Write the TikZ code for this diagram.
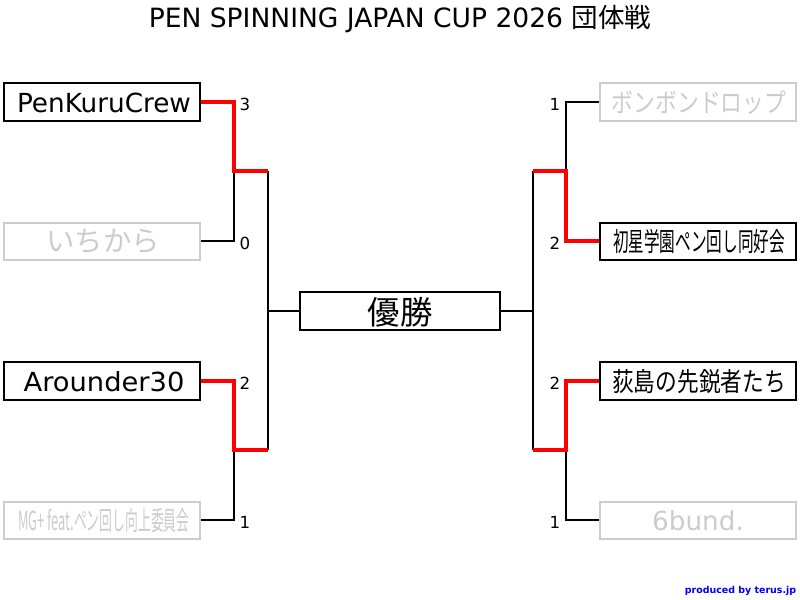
\documentclass[tikz,border=0pt]{standalone}
\usepackage{fontspec}
\setmainfont{DejaVu Sans}
\newfontfamily\jpfont{Noto Sans CJK JP}
\usepackage{xcolor}
\usetikzlibrary{positioning,calc}

\definecolor{loser}{HTML}{CCCCCC}

\tikzset{
    team/.style={draw, line width=1.5pt, fill=white, minimum width=147pt, minimum height=28pt, inner sep=0pt, text height=16pt, text depth=0pt, font=\fontsize{19.7}{20}\selectfont},
    lost/.style={team, draw=loser, text=loser},
    path black/.style={line width=1.5pt, black},
    path red/.style={line width=3pt, red},
    score/.style={font=\fontsize{12.5}{13}\selectfont}
}

\begin{document}
\begin{tikzpicture}[x=0.75pt, y=-0.75pt]
    \useasboundingbox (0, 0) rectangle (800, 600);

    \node[font=\fontsize{19.9}{20}\selectfont] (title) at (400, 19) {PEN SPINNING JAPAN CUP 2026 {\jpfont 団体戦}};

    % Left side
    \node[team] (penkuru) at (102, 102) {\hspace{3pt}PenKuruCrew};
    \node[lost] (ichikara) at (102, 241.2) {\hspace{1.5pt}{\fontsize{21.3}{22}\jpfont いちから}};
    \node[team] (arounder) at (102, 381) {\hspace{3pt}\scalebox{1.04}[1]{Arounder30}};
    \node[lost] (mgplus) at (102, 520.2) {\hspace{3pt}\scalebox{0.489}[1]{\jpfont MG+ feat.ペン回し向上委員会}};

    % Right side
    \node[lost] (bonbon) at (698, 102) {\hspace{1.5pt}\scalebox{0.83}[1]{\jpfont ボンボンドロップ}};
    \node[team] (hatsuboshi) at (698, 241.2) {\hspace{1.5pt}\scalebox{0.595}[1]{\jpfont 初星学園ペン回し同好会}};
    \node[team] (ogishima) at (698, 381) {\hspace{1.5pt}\scalebox{0.825}[1]{\jpfont 荻島の先鋭者たち}};
    \node[lost] (sixbund) at (698, 520.2) {6bund.};

    % Winner box
    \node[team, minimum width=150pt, text height=19.5pt, font=\fontsize{24.3}{25}\selectfont] (final) at (400, 311) {\jpfont 優勝};

    % Joints of the bracket
    \coordinate (jointa) at (234, 171);
    \coordinate (jointb) at (234, 450);
    \coordinate (jointc) at (565.5, 171);
    \coordinate (jointd) at (565.5, 450);
    \coordinate (semia) at (267.5, 171);
    \coordinate (semib) at (267.5, 450);
    \coordinate (semic) at (532.5, 171);
    \coordinate (semid) at (532.5, 450);
    \coordinate (middlea) at (267.5, 311);
    \coordinate (middleb) at (532.5, 311);

    \draw[path black] (ichikara.east) -| (jointa);
    \draw[path black] (mgplus.east) -| (jointb);
    \draw[path black] (bonbon.west) -| (jointc);
    \draw[path black] (sixbund.west) -| (jointd);
    \draw[path black] (semia) -- (semib);
    \draw[path black] (semic) -- (semid);
    \draw[path black] (final.west) -- (middlea);
    \draw[path black] (final.east) -- (middleb);

    % Winning paths
    \draw[path red] (penkuru.east) -| (jointa) -- (semia);
    \draw[path red] (arounder.east) -| (jointb) -- (semib);
    \draw[path red] (hatsuboshi.west) -| (jointc) -- (semic);
    \draw[path red] (ogishima.west) -| (jointd) -- (semid);

    % Scores
    \node[score] (scorea) at (245, 104) {3};
    \node[score] (scoreb) at (245, 243) {0};
    \node[score] (scorec) at (245, 383) {2};
    \node[score] (scored) at (245, 522) {1};
    \node[score] (scoree) at (555, 104) {1};
    \node[score] (scoref) at (555, 243) {2};
    \node[score] (scoreg) at (555, 383) {2};
    \node[score] (scoreh) at (555, 522) {1};

    \node[font=\fontsize{7.1}{8}\selectfont\bfseries, blue, anchor=east, inner sep=0pt] (produced) at (796.5, 590.5) {produced by terus.jp};
\end{tikzpicture}
\end{document}
